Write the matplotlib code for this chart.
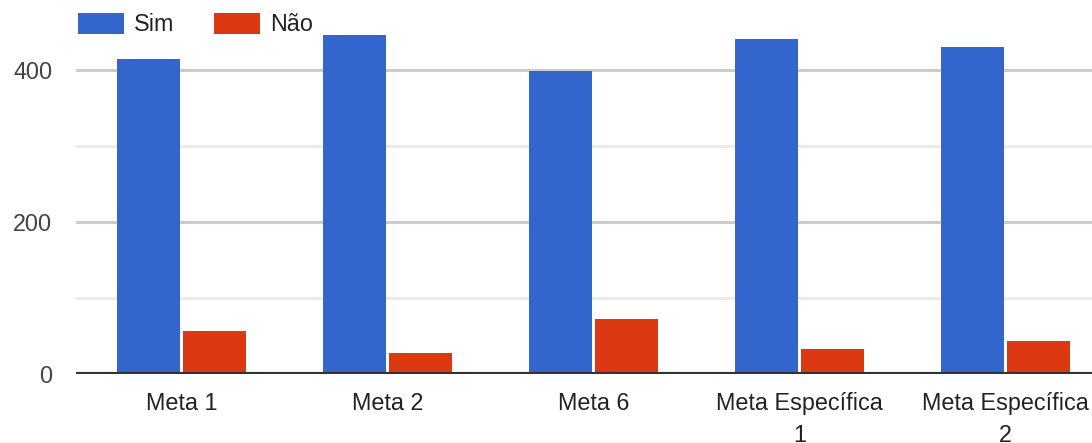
import numpy as np
import matplotlib
matplotlib.use("Agg")
import matplotlib.pyplot as plt

categories = ["Meta 1", "Meta 2", "Meta 6", "Meta Específica\n1", "Meta Específica\n2"]
sim = [415, 446, 399, 441, 430]
nao = [57, 28, 72, 33, 43]
series_names = ["Sim", "Não"]
y_ticks = [0, 200, 400]

plt.rcParams['font.family'] = ['Liberation Sans', 'DejaVu Sans']

W, H = 1092, 443
fig = plt.figure(figsize=(W / 100, H / 100), dpi=100)
ax = fig.add_axes([76 / W, (H - 374) / H, 1 - 76 / W, 374 / H])

x = np.arange(len(categories))
bw = 0.31
ax.bar(x - bw / 2 - 0.005, sim, width=bw, color="#3366cc", label=series_names[0], zorder=3)
ax.bar(x + bw / 2 + 0.005, nao, width=bw, color="#dc3912", label=series_names[1], zorder=3)

# chart area runs past the right edge of the image
ax.set_xlim(-0.512, 4.42)
ax.set_ylim(0, 492)

# gridlines: major darker, minor lighter
for v in [100, 300]:
    ax.axhline(v, color="#ebebeb", lw=2.2, zorder=1)
for v in [200, 400]:
    ax.axhline(v, color="#cccccc", lw=2.2, zorder=1)
ax.axhline(0, color="#333333", lw=3, zorder=4)

for s in ax.spines.values():
    s.set_visible(False)

fs = 16.8
ax.set_yticks(y_ticks)
ax.set_yticklabels([str(v) for v in y_ticks])
ax.set_xticks(x)
ax.set_xticklabels(categories, linespacing=1.5)
ax.tick_params(axis="y", length=0, pad=17, labelsize=fs, labelcolor="#444444")
ax.tick_params(axis="x", length=0, pad=13, labelsize=fs, labelcolor="#222222")

leg = fig.legend(loc="upper left", bbox_to_anchor=(78 / W, 1 - 13 / H), ncol=2,
                 frameon=False, borderpad=0, borderaxespad=0, fontsize=fs,
                 handlelength=1.95, handleheight=1.0, handletextpad=0.45,
                 columnspacing=1.7, labelcolor="#222222")

fig.savefig("out.png", dpi=100)
